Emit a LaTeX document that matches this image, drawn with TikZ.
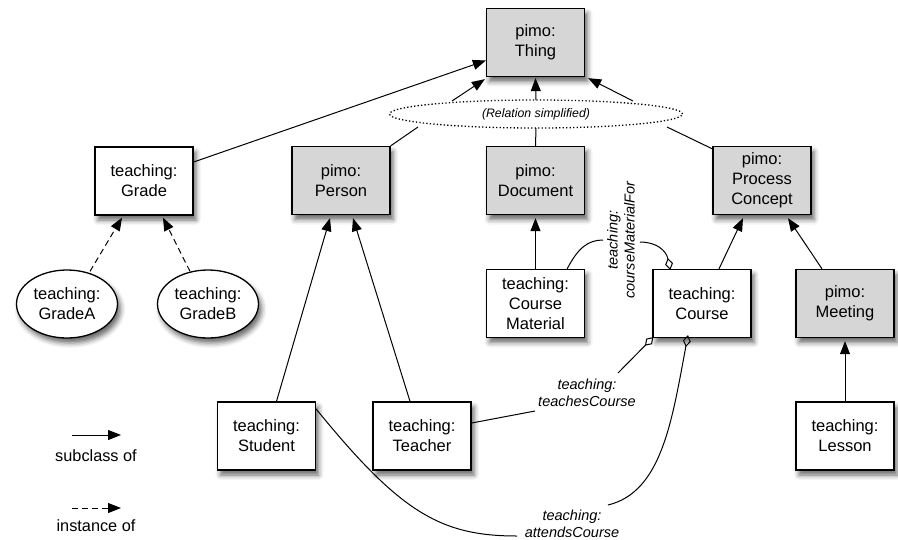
\documentclass[tikz,border=0pt]{standalone}
\usepackage{fontspec}
\setmainfont{Liberation Sans}
\usetikzlibrary{arrows.meta,shapes.geometric,shadows.blur}
\begin{document}
\begin{tikzpicture}[x=1pt,y=-1pt,
  shad/.style={blur shadow={shadow xshift=3pt,shadow yshift=-5pt,shadow blur radius=5pt,shadow opacity=60}},
  box/.style={draw,line width=1.3pt,minimum width=98pt,minimum height=68pt,inner sep=0pt,
    align=center,fill=white,font=\fontsize{16.5}{20}\selectfont,shad},
  gbox/.style={box,fill=black!16},
  inst/.style={ellipse,draw,line width=1.3pt,minimum width=101pt,minimum height=68pt,inner sep=0pt,
    align=center,fill=white,font=\fontsize{16.5}{20}\selectfont,shad},
  sub/.style={line width=1pt,-{Triangle[length=13pt,width=10pt]}},
  ins/.style={sub,dash pattern=on 6pt off 4pt},
  rel/.style={line width=1pt},
  dia/.style={line width=1pt,{Diamond[open,length=12pt,width=8pt,line width=1pt]}-},
  lab/.style={align=center,font=\fontsize{14.5}{17}\selectfont\itshape,inner sep=0pt},
  legtext/.style={font=\fontsize{16.3}{20}\selectfont,inner sep=0pt}
]
\useasboundingbox (0,0) rectangle (898,539);

% nodes
\node[gbox] (thing) at (535.5,42.5) {pimo:\\Thing};
\node[ellipse,draw,dash pattern=on 1.3pt off 2.2pt,line width=1.3pt,minimum width=293pt,minimum height=28pt,inner sep=0pt,
  font=\fontsize{12.3}{14}\selectfont\itshape] (relsimp) at (536,114) {(Relation simplified)};
\node[box] (grade) at (144,181) {teaching:\\Grade};
\node[gbox] (person) at (341,180.5) {pimo:\\Person};
\node[gbox] (document) at (535.5,180.5) {pimo:\\Document};
\node[gbox] (process) at (762,180.5) {pimo:\\Process\\Concept};
\node[inst] (gradeA) at (67,304) {teaching:\\GradeA};
\node[inst] (gradeB) at (208,304) {teaching:\\GradeB};
\node[box] (material) at (535.5,303.5) {teaching:\\Course\\Material};
\node[box] (course) at (702,303.5) {teaching:\\Course};
\node[gbox] (meeting) at (845,303.5) {pimo:\\Meeting};
\node[box] (student) at (266.5,436) {teaching:\\Student};
\node[box] (teacher) at (422,436) {teaching:\\Teacher};
\node[box] (lesson) at (845,436) {teaching:\\Lesson};

% points on the dotted ellipse
\coordinate (r1) at (418,127);
\coordinate (r2) at (452,101);
\coordinate (r3) at (536,128);
\coordinate (r4) at (536,100);
\coordinate (r5) at (667,127);
\coordinate (r6) at (633,101);

% subclass relations
\draw[sub] ([yshift=19pt]grade.east) -- ([yshift=-18pt]thing.west);
\draw[rel] (person.north east) -- (r1);
\draw[sub] (r2) -- ([xshift=-1pt,yshift=-2pt]thing.south west);
\draw[rel] (document.north) -- (r3);
\draw[sub] (r4) -- ([yshift=-1pt]thing.south);
\draw[rel] ([yshift=-3pt]process.north west) -- (r5);
\draw[sub] (r6) -- ([xshift=3pt,yshift=-1pt]thing.south east);
\draw[ins] ([xshift=23pt,yshift=-2pt]gradeA.north) -- ([xshift=-22pt,yshift=-2pt]grade.south);
\draw[ins] ([xshift=-18pt,yshift=-2pt]gradeB.north) -- ([xshift=19pt,yshift=-2pt]grade.south);
\draw[sub] ([xshift=10pt]student.north) -- ([xshift=-11pt,yshift=-3pt]person.south);
\draw[sub] ([xshift=-12pt]teacher.north) -- ([xshift=12pt,yshift=-3pt]person.south);
\draw[sub] (material.north) -- ([yshift=-3pt]document.south);
\draw[sub] ([xshift=17pt]course.north) -- ([xshift=-19pt,yshift=-3pt]process.south);
\draw[sub] ([xshift=-23pt]meeting.north) -- ([xshift=26pt,yshift=-3pt]process.south);
\draw[sub] (lesson.north) -- ([yshift=-3pt]meeting.south);

% property relations
\node[lab,rotate=90] (lcmf) at (621,240) {teaching:\\courseMaterialFor};
\coordinate (c1) at (603,240);
\coordinate (c2) at (640,242);
\draw[rel] ([xshift=-18pt]material.north east) .. controls (578,248) and (588,240) .. (c1);
\draw[dia] ([xshift=18pt,yshift=-1pt]course.north west) .. controls (666,250) and (656,242) .. (c2);

\node[lab] (ltc) at (587,393) {teaching:\\teachesCourse};
\coordinate (t1) at (535,411);
\coordinate (t2) at (618,373);
\draw[rel] ([yshift=13pt]teacher.east) -- (t1);
\draw[dia] ([xshift=1pt,yshift=1pt]course.south west) -- (t2);

\node[lab] (lac) at (572,524) {teaching:\\attendsCourse};
\coordinate (a1) at (517,536);
\coordinate (a2) at (608,505);
\draw[rel] ([yshift=27pt]student.east) .. controls (400,512) and (440,536) .. (a1);
\draw[dia] ([xshift=-14pt,yshift=3pt]course.south) .. controls (672,420) and (662,492) .. (a2);

% legend
\coordinate (la1) at (72,435);
\coordinate (lb1) at (121,435);
\draw[sub] (la1) -- (lb1);
\node[legtext] (lt1) at (96,456) {subclass of};
\coordinate (la2) at (72,508);
\coordinate (lb2) at (121,508);
\draw[ins] (la2) -- (lb2);
\node[legtext] (lt2) at (96,526) {instance of};
\end{tikzpicture}
\end{document}
